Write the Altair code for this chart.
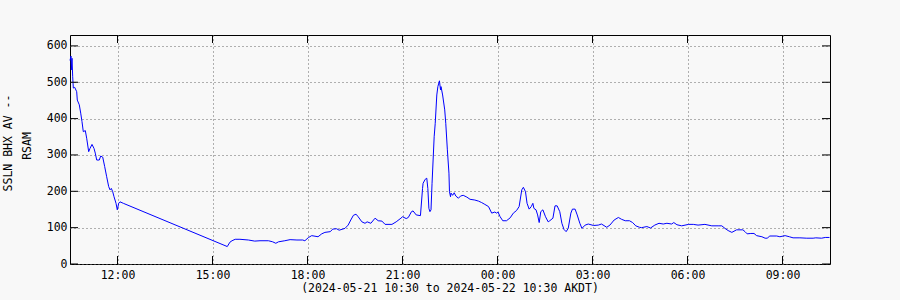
import altair as alt
import pandas as pd

# minutes after 2024-05-21 10:30 AKDT
minutes = [0, 1.9, 2.5, 3.8, 5.1, 6.3, 8.9, 12.7, 13.8, 17.6, 20.3, 22.7, 25.2, 29, 31.6, 35.4, 37.9,
           41.7, 45.5, 47.9, 50.6, 55.5, 58.2, 62, 65.7, 69.5, 73.3, 75.8, 78.3, 80.9, 83.4, 87.2, 89.6,
           92.3, 94.7, 101,
           298, 303, 307, 313, 322, 338, 350, 360, 376, 384, 390, 395, 407, 417, 430, 441, 445, 452,
           458, 470, 477, 483, 493, 498, 505, 510, 521, 527, 532, 537, 542, 546, 553, 559, 563, 570,
           578, 584, 591, 597, 610, 618, 627, 630, 637, 641, 647, 650, 656, 664, 668, 669, 673, 676,
           678, 680, 682, 684, 686, 690, 692, 695, 697, 700, 702, 703, 706, 710, 712, 715, 718, 719,
           721, 722, 725, 728, 731, 736, 740, 745, 752, 758, 767, 774, 780, 786, 793, 799, 805, 808,
           811, 815, 820, 827, 834, 840, 846, 851, 856, 859, 863, 866, 870, 874, 877, 879, 883, 886,
           889, 892, 896, 901, 906, 909, 915, 919, 923, 928, 932, 936, 940, 944, 949, 952, 957, 961,
           966, 970, 976, 982, 992, 1001, 1007, 1017, 1023, 1031, 1039, 1045, 1052, 1060, 1066, 1072,
           1079, 1083, 1093, 1100, 1108, 1116, 1124, 1131, 1140, 1144, 1150, 1159, 1172, 1181, 1190,
           1203, 1216, 1228, 1235, 1241, 1247, 1254, 1263, 1275, 1279, 1283, 1290, 1296, 1301, 1311,
           1317, 1321, 1326, 1339, 1345, 1355, 1363, 1370, 1383, 1396, 1408, 1413, 1424, 1431, 1439]

rsam = [560, 572, 534, 566, 515, 484, 486, 474, 451, 438, 415, 392, 364, 367, 346, 309, 318,
        329, 318, 305, 286, 286, 297, 294, 268, 240, 213, 204, 208, 199, 185, 167, 149,
        167, 171, 167,
        48, 60, 64, 68, 68, 66, 63, 64, 64, 61, 57, 61, 64, 67, 66, 66, 64, 73,
        78, 75, 83, 87, 89, 96, 97, 93, 98, 107, 121, 134, 137, 130, 116, 112, 116, 112,
        126, 119, 118, 109, 109, 116, 126, 130, 125, 128, 144, 146, 135, 133, 208, 222, 233, 236,
        208, 153, 144, 149, 222, 350, 387, 465, 488, 504, 479, 488, 465, 424, 387, 314, 250, 199,
        185, 195, 189, 196, 187, 181, 187, 189, 184, 178, 176, 173, 169, 164, 158, 140, 143, 140,
        143, 130, 119, 119, 127, 140, 147, 158, 204, 211, 199, 167, 151, 158, 167, 153, 149, 135,
        114, 144, 149, 130, 116, 119, 126, 160, 160, 144, 112, 95, 89, 98, 140, 151, 151, 135,
        112, 98, 107, 110, 106, 107, 110, 101, 107, 121, 128, 123, 119, 119, 114, 105,
        101, 100, 103, 99, 107, 112, 110, 112, 110, 114, 108, 105, 109, 109, 107,
        109, 105, 105, 105, 98, 92, 87, 94, 94, 89, 83, 84, 84, 78, 75,
        71, 71, 77, 77, 75, 78, 75, 72, 72, 71, 71, 72, 71, 73, 73]

assert len(minutes) == len(rsam)

x_tick_hours = ["2024-05-21T12:00", "2024-05-21T15:00", "2024-05-21T18:00", "2024-05-21T21:00",
                "2024-05-22T00:00", "2024-05-22T03:00", "2024-05-22T06:00", "2024-05-22T09:00"]
y_tick_values = [0, 100, 200, 300, 400, 500, 600]
y_title_lines = ["SSLN BHX AV --", "RSAM"]
x_title = "(2024-05-21 10:30 to 2024-05-22 10:30 AKDT)"

start = pd.Timestamp("2024-05-21 10:30")
df = pd.DataFrame({"t": [(start + pd.Timedelta(minutes=m)).strftime("%Y-%m-%dT%H:%M:%S") for m in minutes],
                   "rsam": rsam})

W, H = 760, 229
FONT = "DejaVu Sans Mono"
FS = 11.5

xscale = alt.Scale(domain=["2024-05-21T10:30:00", "2024-05-22T10:30:00"], nice=False)
yscale = alt.Scale(domain=[0, 630], nice=False, zero=True)

x_axis_vals = [alt.DateTime(year=int(s[0:4]), month=int(s[5:7]), date=int(s[8:10]),
                            hours=int(s[11:13]), minutes=int(s[14:16])) for s in x_tick_hours]

xaxis = alt.Axis(values=x_axis_vals, format="%H:%M", title=None, grid=True,
                 gridDash=[1, 3], gridColor="#666666", gridWidth=1, tickSize=0,
                 domain=False, labelFont=FONT, labelFontSize=FS, labelColor="#000000",
                 labelPadding=5, labelOverlap=False, labelFlush=False)
yaxis = alt.Axis(values=y_tick_values, title=None, grid=True, gridDash=[1, 3],
                 gridColor="#666666", gridWidth=1, tickSize=0, domain=False,
                 labelFont=FONT, labelFontSize=FS, labelColor="#000000",
                 labelPadding=3, labelOverlap=False, labelFlush=False)

line = alt.Chart(df).mark_line(color="#0000ff", strokeWidth=1, interpolate="linear").encode(
    x=alt.X("t:T", scale=xscale, axis=xaxis),
    y=alt.Y("rsam:Q", scale=yscale, axis=yaxis),
)

xt = pd.DataFrame({"t": [s + ":00" for s in x_tick_hours]})
yt = pd.DataFrame({"v": y_tick_values})

xticks_bottom = alt.Chart(xt).mark_rule(color="black", strokeWidth=1).encode(
    x=alt.X("t:T", scale=xscale, axis=xaxis), y=alt.value(H - 8), y2=alt.value(H))
xticks_top = alt.Chart(xt).mark_rule(color="black", strokeWidth=1).encode(
    x=alt.X("t:T", scale=xscale, axis=xaxis), y=alt.value(0), y2=alt.value(8))
yticks_left = alt.Chart(yt).mark_rule(color="black", strokeWidth=1).encode(
    y=alt.Y("v:Q", scale=yscale, axis=yaxis), x=alt.value(0), x2=alt.value(8))
yticks_right = alt.Chart(yt).mark_rule(color="black", strokeWidth=1).encode(
    y=alt.Y("v:Q", scale=yscale, axis=yaxis), x=alt.value(W - 8), x2=alt.value(W))

ytitle1 = alt.Chart(pd.DataFrame({"s": [y_title_lines[0]]})).mark_text(
    font=FONT, fontSize=FS, angle=270, align="center", baseline="middle", color="black").encode(
    text="s:N", x=alt.value(-61), y=alt.value(108))
ytitle2 = alt.Chart(pd.DataFrame({"s": [y_title_lines[1]]})).mark_text(
    font=FONT, fontSize=FS, angle=270, align="center", baseline="middle", color="black").encode(
    text="s:N", x=alt.value(-42), y=alt.value(111))
xtitle = alt.Chart(pd.DataFrame({"s": [x_title]})).mark_text(
    font=FONT, fontSize=FS, align="center", baseline="middle", color="black").encode(
    text="s:N", x=alt.value(W / 2), y=alt.value(254))

chart = alt.layer(line, xticks_bottom, xticks_top, yticks_left, yticks_right,
                  ytitle1, ytitle2, xtitle).properties(
    width=W, height=H,
    autosize=alt.AutoSizeParams(type="none"),
    padding={"left": 70, "top": 35, "right": 70, "bottom": 36},
    background="#f8f8f8",
).configure_view(stroke="black", strokeWidth=1, fill="#f8f8f8")

chart.save("out.html", embed_options={"renderer": "svg", "actions": False})
